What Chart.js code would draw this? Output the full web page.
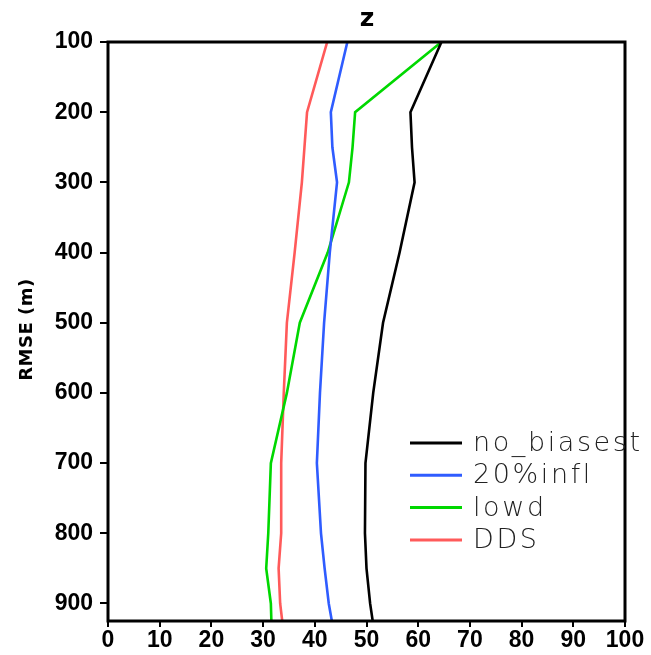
<!DOCTYPE html>
<html>
<head>
<meta charset="utf-8">
<script src="https://cdn.jsdelivr.net/npm/chart.js@4"></script>
<style>
  body { margin: 0; background: #fff; }
  #wrap { width: 651px; height: 655px; }
</style>
</head>
<body>
<div id="wrap"><canvas id="rmseChart" width="651" height="655"></canvas></div>
<script>
// Pressure levels (hPa) and RMSE of z (m) per experiment
const levels = [100, 200, 250, 300, 400, 500, 600, 700, 800, 850, 900, 925];
const noBiasest = [64.5, 58.5, 58.8, 59.3, 56.4, 53.2, 51.3, 49.8, 49.7, 50.0, 50.7, 51.2];
const infl20 = [46.3, 43.1, 43.4, 44.3, 42.9, 41.8, 41.0, 40.4, 41.2, 41.9, 42.7, 43.3];
const lowd = [64.5, 47.8, 47.3, 46.6, 42.5, 37.1, 34.6, 31.5, 31.0, 30.6, 31.5, 31.6];
const dds = [42.4, 38.5, 38.0, 37.5, 36.1, 34.6, 34.0, 33.5, 33.5, 33.0, 33.3, 33.7];

const seriesNames = ['no_biasest', '20%infl', 'lowd', 'DDS'];
const seriesColors = ['#000000', '#2f5cff', '#00d800', '#ff5a5a'];
const xTicks = [0, 10, 20, 30, 40, 50, 60, 70, 80, 90, 100];
const yTicks = [100, 200, 300, 400, 500, 600, 700, 800, 900];

const toPoints = vals => vals.map((v, i) => ({ x: v, y: levels[i] }));
const allSeries = [noBiasest, infl20, lowd, dds];

// frame, titles and legend drawn by hand
const framePlugin = {
    id: 'frame',
    afterDraw(chart) {
        const { ctx, chartArea: a } = chart;
        ctx.save();
        ctx.strokeStyle = '#000';
        ctx.lineWidth = 3;
        ctx.strokeRect(a.left, a.top, a.right - a.left, a.bottom - a.top);

        // title
        ctx.fillStyle = '#000';
        ctx.font = 'bold 25px "DejaVu Sans"';
        ctx.textAlign = 'center';
        ctx.textBaseline = 'alphabetic';
        ctx.fillText('z', (a.left + a.right) / 2 + 0.5, 26);

        // y axis title
        ctx.save();
        ctx.translate(27, (a.top + a.bottom) / 2);
        ctx.rotate(-Math.PI / 2);
        ctx.font = 'bold 18px "DejaVu Sans"';
        ctx.letterSpacing = '0.5px';
        ctx.textBaseline = 'middle';
        ctx.fillText('RMSE (m)', 2, 0);
        ctx.restore();

        // legend
        ctx.font = '300 27px "DejaVu Sans"';
        ctx.textAlign = 'left';
        ctx.textBaseline = 'middle';
        ctx.letterSpacing = '2.6px';
        const x0 = a.left + 302;
        let y = a.top + 401;
        seriesNames.forEach((name, i) => {
            ctx.strokeStyle = seriesColors[i];
            ctx.lineWidth = 3;
            ctx.beginPath();
            ctx.moveTo(x0, y);
            ctx.lineTo(x0 + 52, y);
            ctx.stroke();
            ctx.fillStyle = '#222';
            ctx.fillText(name, x0 + 63, y + 1);
            y += 32.3;
        });
        ctx.restore();
    }
};

const tickFont = { family: '"Liberation Sans"', size: 23, weight: 'bold' };

new Chart(document.getElementById('rmseChart'), {
    type: 'line',
    data: {
        datasets: allSeries.map((vals, i) => ({
            label: seriesNames[i],
            data: toPoints(vals),
            borderColor: seriesColors[i],
            borderWidth: 2.6,
            pointRadius: 0,
            fill: false,
            tension: 0
        }))
    },
    options: {
        responsive: false,
        animation: false,
        layout: { padding: { top: 42, right: 26, left: 0, bottom: 0 } },
        plugins: {
            legend: { display: false },
            tooltip: { enabled: false }
        },
        scales: {
            x: {
                type: 'linear',
                min: 0,
                max: 100,
                afterFit: s => { s.height = 34; },
                afterBuildTicks: s => { s.ticks = xTicks.map(v => ({ value: v })); },
                grid: { drawOnChartArea: false, drawTicks: true, tickLength: 6, color: '#000', lineWidth: 2 },
                border: { display: false },
                ticks: { color: '#000', font: tickFont, padding: 0, maxRotation: 0, autoSkip: false }
            },
            y: {
                type: 'linear',
                reverse: true,
                min: 100,
                max: 925,
                afterFit: s => { s.width = 108; },
                afterBuildTicks: s => { s.ticks = yTicks.map(v => ({ value: v })); },
                grid: { drawOnChartArea: false, drawTicks: true, tickLength: 8, color: '#000', lineWidth: 2 },
                border: { display: false },
                ticks: { color: '#000', font: tickFont, padding: 7, autoSkip: false }
            }
        }
    },
    plugins: [framePlugin]
});
</script>
</body>
</html>
